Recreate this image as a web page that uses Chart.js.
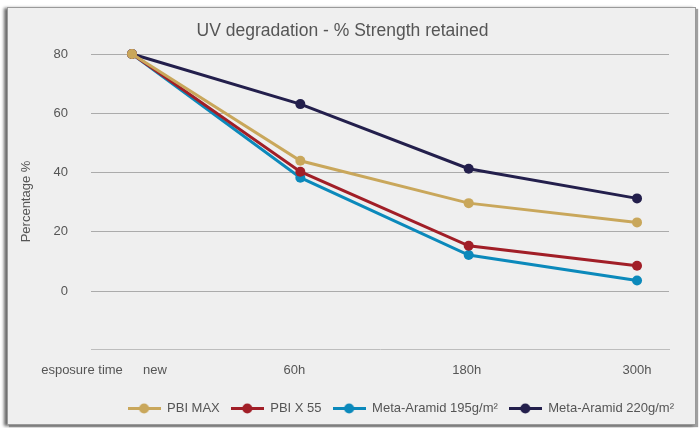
<!DOCTYPE html>
<html>
<head>
<meta charset="utf-8">
<script src="https://cdn.jsdelivr.net/npm/chart.js@4/dist/chart.umd.min.js"></script>
<style>
  html, body { margin: 0; padding: 0; background: #ffffff; width: 699px; height: 428px; overflow: hidden; }
  #panel { position: absolute; left: 7px; top: 7px; width: 687px; height: 416px; background: #efefef;
           border: 1px solid #9a9a9a; box-shadow: -3px 1px 3px #6a6a6a, 2px 2px 1px #a0a0a0; }
  #c { position: absolute; left: 0; top: 0; }
</style>
</head>
<body>
<div id="panel"></div>
<canvas id="c" width="699" height="428"></canvas>
<script>
// ---- data ----
const timeLabels = ['new', '60h', '180h', '300h'];
const axisCaption = 'esposure time';
const seriesNames = ['PBI MAX', 'PBI X 55', 'Meta-Aramid 195g/m²', 'Meta-Aramid 220g/m²'];
const pbiMax  = [80, 44.0, 29.7, 23.2];
const pbiX55  = [80, 40.3, 15.3, 8.6];
const meta195 = [80, 38.3, 12.2, 3.6];
const meta220 = [80, 63.1, 41.3, 31.3];
const yTicks  = [0, 20, 40, 60, 80];

// ---- styles ----
const colors = ['#c9a75b', '#a11e27', '#0b89bb', '#231f4c'];
const textColor = '#555555';
const fontFam = "'Liberation Sans', Arial, sans-serif";
const labelOffsets = [23, -6, -2, 0];

function legendIcon(color) {
  const cv = document.createElement('canvas');
  cv.width = 33; cv.height = 11;
  const g = cv.getContext('2d');
  g.strokeStyle = color; g.lineWidth = 3;
  g.beginPath(); g.moveTo(0, 5.5); g.lineTo(33, 5.5); g.stroke();
  g.fillStyle = color;
  g.beginPath(); g.arc(16.5, 5.5, 5, 0, Math.PI * 2); g.fill();
  return cv;
}

const seriesValues = [pbiMax, pbiX55, meta195, meta220];
const datasets = seriesValues.map((vals, s) => ({
  label: seriesNames[s],
  data: vals.map((v, i) => ({ x: i, y: v })),
  borderColor: colors[s],
  backgroundColor: colors[s],
  pointBackgroundColor: colors[s],
  borderWidth: 3,
  pointRadius: 5,
  pointBorderWidth: 0,
  pointHoverRadius: 5,
  tension: 0,
  clip: false
}));

const xLabelsPlugin = {
  id: 'xLabels',
  afterDraw(chart) {
    const xs = chart.scales.x;
    const ctx = chart.ctx;
    const y = chart.chartArea.bottom + 21;
    ctx.save();
    ctx.font = '13px ' + fontFam;
    ctx.fillStyle = textColor;
    ctx.textAlign = 'center';
    ctx.textBaseline = 'middle';
    timeLabels.forEach((t, i) => {
      ctx.fillText(t, xs.getPixelForValue(i) + labelOffsets[i], y);
    });
    ctx.fillText(axisCaption, xs.getPixelForValue(0) - 50, y);
    ctx.restore();
  }
};

new Chart(document.getElementById('c'), {
  type: 'line',
  data: { datasets },
  plugins: [xLabelsPlugin],
  options: {
    responsive: false,
    devicePixelRatio: 1,
    animation: false,
    layout: { padding: { left: 0, right: 14, top: 8, bottom: 3 } },
    plugins: {
      title: {
        display: true,
        text: 'UV degradation - % Strength retained',
        color: textColor,
        font: { family: fontFam, size: 17.5, weight: 'normal' },
        padding: { top: 13, bottom: 12 }
      },
      legend: {
        position: 'bottom',
        align: 'end',
        labels: {
          color: textColor,
          font: { family: fontFam, size: 13 },
          usePointStyle: true,
          pointStyleWidth: 33,
          padding: 11,
          generateLabels(chart) {
            const items = Chart.defaults.plugins.legend.labels.generateLabels(chart);
            items.forEach((it, i) => { it.pointStyle = legendIcon(colors[i]); });
            return items;
          }
        }
      },
      tooltip: { enabled: false }
    },
    scales: {
      x: {
        type: 'linear',
        min: -0.2436,
        max: 3.19,
        grid: { display: false },
        ticks: { display: false },
        border: { display: true, color: '#bdbdbd', width: 1 },
        afterFit(s) { s.height = 42; }
      },
      y: {
        type: 'linear',
        position: 'left',
        min: -19.5,
        max: 80,
        afterBuildTicks(s) { s.ticks = yTicks.map(v => ({ value: v })); },
        grid: { color: '#ababab', lineWidth: 1, drawTicks: false },
        border: { display: false },
        ticks: { color: textColor, font: { family: fontFam, size: 13 }, padding: 23 },
        title: {
          display: true,
          text: 'Percentage %',
          color: textColor,
          font: { family: fontFam, size: 13 },
          padding: { top: 19, bottom: 0 }
        },
        afterFit(s) { s.width = 91; }
      },
      yRight: {
        type: 'linear',
        position: 'right',
        display: true,
        grid: { display: false },
        border: { display: false },
        ticks: { display: false },
        afterFit(s) { s.width = 16; }
      }
    }
  }
});
</script>
</body>
</html>
